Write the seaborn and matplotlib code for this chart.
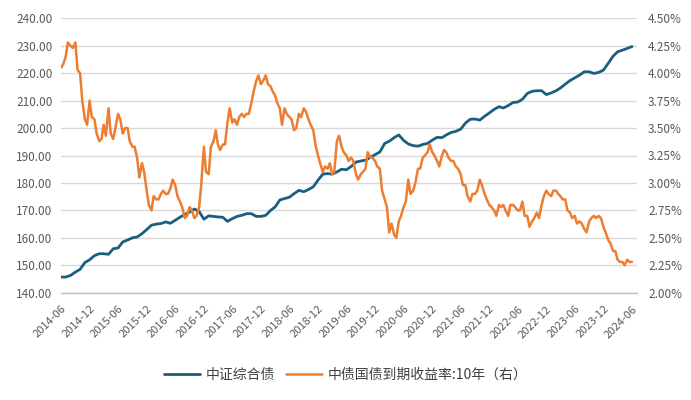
import numpy as np
import pandas as pd
import matplotlib
matplotlib.use("Agg")
import matplotlib.pyplot as plt
import seaborn as sns

# ---------------- data ----------------
series_names = ["中证综合债", "中债国债到期收益率:10年（右）"]

# 中证综合债 (monthly, 2014-06 .. 2024-06)
bond_index = [
    145.7, 145.7, 146.3, 147.5, 148.5, 151.0, 152.0, 153.5, 154.2, 154.2,
    154.0, 156.0, 156.3, 158.5, 159.2, 160.0, 160.3, 161.5, 163.0, 164.6,
    165.0, 165.2, 165.8, 165.3, 166.4, 167.5, 168.5, 169.4, 170.5, 169.6,
    166.8, 168.0, 167.8, 167.6, 167.5, 166.0, 167.0, 167.8, 168.2, 168.8,
    168.8, 167.8, 167.8, 168.2, 170.0, 171.2, 173.8, 174.3, 174.8, 176.1,
    177.3, 176.8, 177.6, 178.6, 181.0, 183.2, 183.4, 183.2, 184.0, 185.0,
    184.8, 186.0, 187.6, 188.0, 188.3, 189.3, 190.3, 191.3, 194.4, 195.2,
    196.5, 197.5, 195.5, 194.2, 193.6, 193.4, 194.0, 194.4, 195.6, 196.6,
    196.5, 197.5, 198.4, 198.8, 199.6, 201.8, 203.2, 203.3, 202.9, 204.3,
    205.5, 206.8, 207.8, 207.3, 208.2, 209.3, 209.5, 210.5, 212.6, 213.4,
    213.6, 213.6, 212.2, 212.8, 213.6, 214.6, 216.0, 217.3, 218.3, 219.3,
    220.5, 220.5, 219.9, 220.3, 221.1, 223.6, 226.2, 227.8, 228.4, 229.0,
    229.7,
]

# 中债国债到期收益率:10年 (%, twice a month, 2014-06 .. 2024-06)
yield_10y = [
    4.05, 4.08, 4.15, 4.28, 4.25, 4.23, 4.28, 4.03, 4.00, 3.75,
    3.58, 3.53, 3.75, 3.60, 3.58, 3.45, 3.38, 3.40, 3.53, 3.43,
    3.68, 3.45, 3.40, 3.50, 3.63, 3.58, 3.45, 3.50, 3.50, 3.38,
    3.33, 3.33, 3.23, 3.05, 3.18, 3.10, 2.93, 2.80, 2.75, 2.88,
    2.85, 2.85, 2.90, 2.93, 2.90, 2.90, 2.95, 3.03, 2.98, 2.88,
    2.83, 2.78, 2.68, 2.70, 2.78, 2.75, 2.68, 2.70, 2.78, 3.00,
    3.33, 3.10, 3.08, 3.33, 3.38, 3.48, 3.35, 3.30, 3.35, 3.35,
    3.55, 3.68, 3.55, 3.58, 3.53, 3.60, 3.63, 3.60, 3.63, 3.63,
    3.73, 3.83, 3.93, 3.98, 3.90, 3.93, 3.98, 3.90, 3.88, 3.83,
    3.80, 3.73, 3.68, 3.53, 3.68, 3.63, 3.60, 3.58, 3.48, 3.50,
    3.63, 3.60, 3.68, 3.65, 3.58, 3.53, 3.48, 3.35, 3.25, 3.18,
    3.10, 3.15, 3.13, 3.18, 3.08, 3.10, 3.38, 3.43, 3.33, 3.28,
    3.25, 3.20, 3.23, 3.20, 3.08, 3.03, 3.08, 3.10, 3.13, 3.28,
    3.23, 3.23, 3.20, 3.15, 3.13, 2.93, 2.85, 2.78, 2.55, 2.63,
    2.53, 2.50, 2.65, 2.70, 2.78, 2.83, 3.03, 2.90, 2.93, 3.00,
    3.13, 3.13, 3.23, 3.25, 3.28, 3.35, 3.28, 3.25, 3.20, 3.15,
    3.25, 3.30, 3.28, 3.23, 3.20, 3.20, 3.15, 3.13, 3.08, 2.98,
    2.98, 2.88, 2.83, 2.90, 2.90, 2.93, 3.03, 2.98, 2.90, 2.85,
    2.80, 2.78, 2.75, 2.70, 2.80, 2.78, 2.80, 2.75, 2.70, 2.80,
    2.80, 2.78, 2.75, 2.75, 2.83, 2.70, 2.70, 2.60, 2.65, 2.68,
    2.73, 2.68, 2.80, 2.88, 2.93, 2.90, 2.88, 2.93, 2.93, 2.90,
    2.88, 2.85, 2.85, 2.75, 2.73, 2.68, 2.70, 2.63, 2.65, 2.63,
    2.58, 2.55, 2.65, 2.68, 2.70, 2.68, 2.70, 2.68, 2.60, 2.55,
    2.48, 2.45, 2.38, 2.38, 2.30, 2.28, 2.28, 2.25, 2.30, 2.28,
    2.28,
]

tick_labels = [
    "2014-06", "2014-12", "2015-06", "2015-12", "2016-06", "2016-12",
    "2017-06", "2017-12", "2018-06", "2018-12", "2019-06", "2019-12",
    "2020-06", "2020-12", "2021-06", "2021-12", "2022-06", "2022-12",
    "2023-06", "2023-12", "2024-06",
]
left_ticks = [140, 150, 160, 170, 180, 190, 200, 210, 220, 230, 240]
right_ticks = [2.00, 2.25, 2.50, 2.75, 3.00, 3.25, 3.50, 3.75, 4.00, 4.25, 4.50]

month_dates = pd.date_range("2014-06-01", "2024-06-01", freq="MS")
half_dates = pd.date_range("2014-06-01", "2024-06-01", freq="SMS")
tick_dates = pd.to_datetime([t + "-01" for t in tick_labels])

# ---------------- style ----------------
BLUE = "#1B5E80"
ORANGE = "#ED7D31"
GRID = "#D9D9D9"
TXT = "#595959"

sns.set_theme(style="white")
plt.rcParams["font.family"] = ["Noto Sans CJK SC", "DejaVu Sans"]

W, H = 691, 400
fig = plt.figure(figsize=(W / 100, H / 100), dpi=100)
ax = fig.add_axes([61 / W, 1 - 292.7 / H, (637 - 61) / W, (292.7 - 18.3) / H])

sns.lineplot(x=month_dates, y=bond_index, ax=ax, color=BLUE, linewidth=2.0,
             legend=False)
ax2 = ax.twinx()
sns.lineplot(x=half_dates, y=yield_10y, ax=ax2, color=ORANGE, linewidth=1.8,
             legend=False)

ax.set_xlim(pd.Timestamp("2014-06-01"), pd.Timestamp("2024-07-03"))
ax.set_ylim(140, 240)
ax2.set_ylim(2.0, 4.5)

ax.set_yticks(left_ticks)
ax.set_yticklabels([f"{v:.2f}" for v in left_ticks])
ax2.set_yticks(right_ticks)
ax2.set_yticklabels([f"{v:.2f}%" for v in right_ticks])

ax.set_xticks(tick_dates)
ax.set_xticklabels(tick_labels, rotation=45, ha="right", rotation_mode="anchor")

ax.set_xlabel("")
ax.set_ylabel("")
ax2.set_ylabel("")

ax.yaxis.grid(True, color=GRID, linewidth=1.0)
ax.xaxis.grid(False)
ax2.grid(False)
ax.set_axisbelow(True)

for s in ["top", "left", "right"]:
    ax.spines[s].set_visible(False)
for s in ["top", "left", "right", "bottom"]:
    ax2.spines[s].set_visible(False)
ax.spines["bottom"].set_color("#BFBFBF")
ax.spines["bottom"].set_linewidth(1.0)

ax.tick_params(axis="x", direction="out", length=5, width=1, color="#BFBFBF",
               labelsize=8, labelcolor=TXT, pad=3)
ax.tick_params(axis="y", length=0, labelsize=8.5, labelcolor=TXT, pad=6)
ax2.tick_params(axis="y", length=0, labelsize=8.5, labelcolor=TXT, pad=8)

handles = [ax.lines[0], ax2.lines[0]]
fig.legend(handles, series_names, loc="center", bbox_to_anchor=(0.5, 1 - 375 / H),
           ncol=2, frameon=False, fontsize=10, handlelength=2.6,
           handletextpad=0.4, columnspacing=0.8, labelcolor="#404040")

fig.savefig("out.png", dpi=100)
